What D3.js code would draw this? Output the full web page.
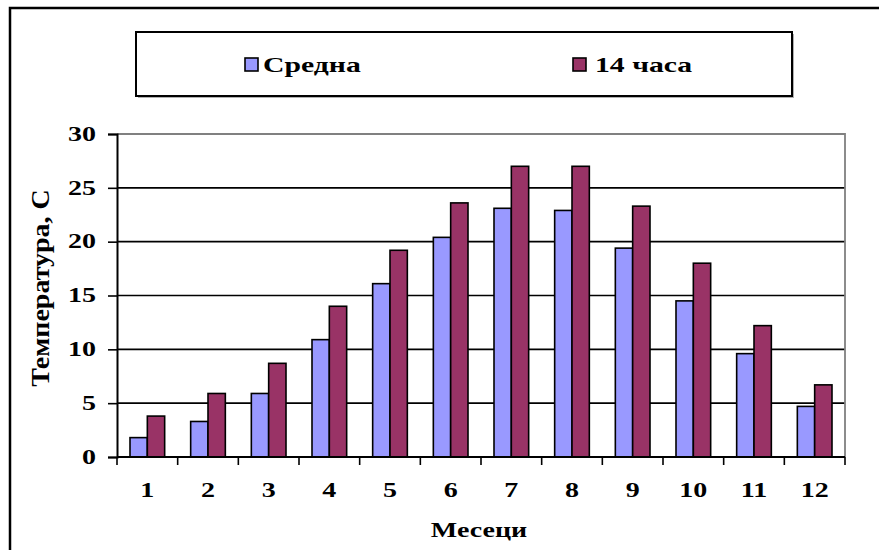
<!DOCTYPE html>
<html>
<head>
<meta charset="utf-8">
<script src="https://cdn.jsdelivr.net/npm/d3@7"></script>
<style>
  html, body { margin: 0; padding: 0; background: #fff; }
  svg text { font-family: "Liberation Serif", "Times New Roman", serif; font-weight: bold; fill: #000; }
</style>
</head>
<body>
<svg id="chart" width="879" height="550"></svg>
<script>
// Monthly air temperature: monthly mean and the 14 o'clock reading
const months = ["1", "2", "3", "4", "5", "6", "7", "8", "9", "10", "11", "12"];
const meanTemp = [1.8, 3.3, 5.9, 10.9, 16.1, 20.4, 23.1, 22.9, 19.4, 14.5, 9.6, 4.7];
const temp14h = [3.8, 5.9, 8.7, 14.0, 19.2, 23.6, 27.0, 27.0, 23.3, 18.0, 12.2, 6.7];
const seriesNames = ["Средна", "14 часа"];
const seriesColors = ["#9999ff", "#993366"];
const yTicks = [0, 5, 10, 15, 20, 25, 30];

const svg = d3.select("#chart");
const plot = { left: 117, right: 845, top: 134, bottom: 457 };
const stretch = 1.4; // horizontal widening of the serif labels

// Outer chart frame (runs off the right and bottom edges)
svg.append("path")
  .attr("d", "M10,560 L10,8 L890,8")
  .attr("fill", "none").attr("stroke", "#000").attr("stroke-width", 2.5);

const x = d3.scaleBand().domain(months).range([plot.left, plot.right]).paddingInner(0).paddingOuter(0);
const y = d3.scaleLinear().domain([0, 30]).range([plot.bottom, plot.top]);

// Bars within each month: two bars with a 150% gap
const barW = x.bandwidth() / 3.5;
const x1 = d3.scaleBand().domain([0, 1]).range([0, 2 * barW]);

// Horizontal gridlines
svg.append("g").selectAll("line").data(yTicks.filter(t => t > 0 && t < 30)).join("line")
  .attr("x1", plot.left).attr("x2", plot.right)
  .attr("y1", d => y(d)).attr("y2", d => y(d))
  .attr("stroke", "#000").attr("stroke-width", 1.6);

// Plot area border (top and right, grey)
svg.append("path")
  .attr("d", `M${plot.left},${y(30)} L${plot.right},${y(30)} L${plot.right},${plot.bottom}`)
  .attr("fill", "none").attr("stroke", "#808080").attr("stroke-width", 1.8);

// Bars
const series = [meanTemp, temp14h];
const groups = svg.append("g").selectAll("g").data(months).join("g")
  .attr("transform", d => `translate(${x(d) + (x.bandwidth() - 2 * barW) / 2},0)`);
groups.selectAll("rect").data((m, i) => series.map((s, k) => ({ k, v: s[i] }))).join("rect")
  .attr("x", d => x1(d.k))
  .attr("width", x1.bandwidth())
  .attr("y", d => y(d.v))
  .attr("height", d => y(0) - y(d.v))
  .attr("fill", d => seriesColors[d.k])
  .attr("stroke", "#000").attr("stroke-width", 1.6);

// Y axis
const yAxis = svg.append("g").attr("transform", `translate(${plot.left},0)`)
  .call(d3.axisLeft(y).tickValues(yTicks).tickSize(9).tickFormat(""));
yAxis.select(".domain").attr("stroke", "#000").attr("stroke-width", 2);
yAxis.selectAll(".tick line").attr("stroke", "#000").attr("stroke-width", 1.6);

yTicks.forEach(t => {
  svg.append("text")
    .attr("transform", `translate(96,${y(t) + 6.7}) scale(${stretch},1)`)
    .attr("text-anchor", "end")
    .attr("font-size", 20)
    .text(t);
});

// X axis with ticks at the month boundaries
const xAxisG = svg.append("g").attr("transform", `translate(0,${plot.bottom})`);
xAxisG.append("line").attr("x1", plot.left).attr("x2", plot.right)
  .attr("stroke", "#000").attr("stroke-width", 2);
xAxisG.selectAll("line.tk").data(months.concat(["end"])).join("line")
  .attr("class", "tk")
  .attr("x1", d => d === "end" ? plot.right : x(d))
  .attr("x2", d => d === "end" ? plot.right : x(d))
  .attr("y1", 0).attr("y2", 8)
  .attr("stroke", "#000").attr("stroke-width", 1.6);

months.forEach(m => {
  svg.append("text")
    .attr("transform", `translate(${x(m) + x.bandwidth() / 2},497) scale(${stretch},1)`)
    .attr("text-anchor", "middle")
    .attr("font-size", 20)
    .text(m);
});

// Axis titles
svg.append("text")
  .attr("transform", `translate(479,537) scale(${stretch},1)`)
  .attr("text-anchor", "middle")
  .attr("font-size", 20)
  .text("Месеци");

svg.append("text")
  .attr("transform", `translate(49,288) rotate(-90) scale(1.4,1.3)`)
  .attr("text-anchor", "middle")
  .attr("font-size", 20)
  .text("Температура, С");

// Legend
const legend = svg.append("g");
legend.append("rect").attr("x", 138).attr("y", 34).attr("width", 656).attr("height", 64)
  .attr("fill", "#b0b0b0");
legend.append("rect").attr("x", 136).attr("y", 32).attr("width", 656).attr("height", 64)
  .attr("fill", "#fff").attr("stroke", "#000").attr("stroke-width", 2);

const legendX = [245, 573];
const legendGap = [18, 22];
seriesNames.forEach((name, k) => {
  legend.append("rect")
    .attr("x", legendX[k]).attr("y", 58).attr("width", 13).attr("height", 13)
    .attr("fill", seriesColors[k]).attr("stroke", "#000").attr("stroke-width", 1.6);
  legend.append("text")
    .attr("transform", `translate(${legendX[k] + legendGap[k]},72) scale(1.45,1.05)`)
    .attr("font-size", 20.5)
    .text(name);
});
</script>
</body>
</html>
